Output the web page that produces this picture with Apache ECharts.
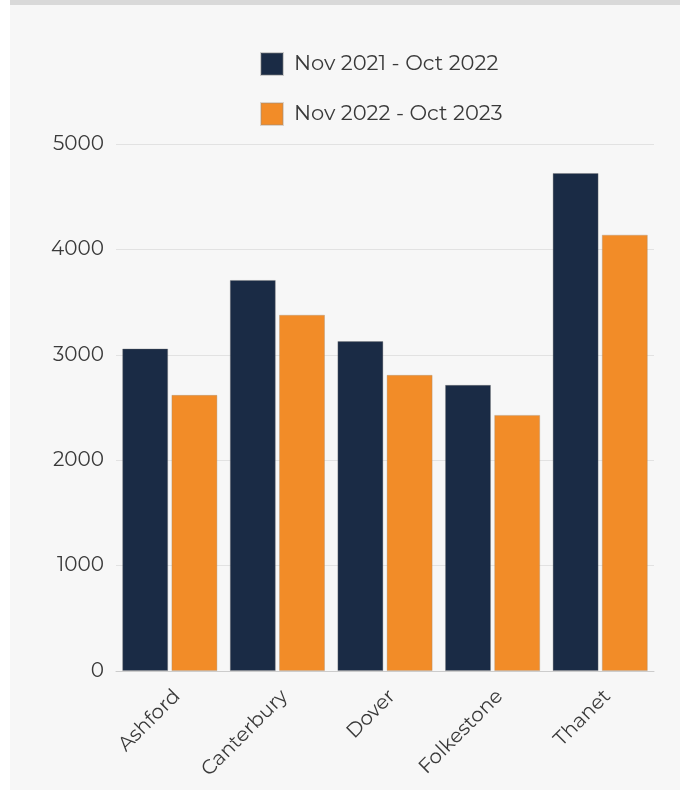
<!DOCTYPE html>
<html>
<head>
<meta charset="utf-8">
<script src="https://cdn.jsdelivr.net/npm/echarts@6/dist/echarts.min.js"></script>
<style>
  html, body { margin: 0; padding: 0; background: #ffffff; }
  #bg { position: absolute; left: 10px; top: 0; width: 670px; height: 790px; background: #f7f7f7; border-top: 5px solid #d9d9d9; box-sizing: border-box; }
  #chart { position: absolute; left: 0; top: 0; width: 680px; height: 792px; }
</style>
</head>
<body>
<div id="bg"></div>
<div id="chart"></div>
<script>
const categories = ['Ashford', 'Canterbury', 'Dover', 'Folkestone', 'Thanet'];
const seriesNames = ['Nov 2021 - Oct 2022', 'Nov 2022 - Oct 2023'];
const values2122 = [3060, 3710, 3130, 2715, 4725];
const values2223 = [2620, 3380, 2810, 2430, 4140];
const yTicks = [0, 1000, 2000, 3000, 4000, 5000];

const FONT = 'Montserrat, "Open Sans", "Noto Sans", sans-serif';
const chart = echarts.init(document.getElementById('chart'), null, { renderer: 'canvas' });
chart.setOption({
  backgroundColor: 'transparent',
  animation: false,
  textStyle: { fontFamily: FONT },
  legend: {
    orient: 'vertical',
    left: 260,
    top: 52,
    padding: 0,
    itemWidth: 22,
    itemHeight: 22,
    itemGap: 26,
    icon: 'rect',
    textStyle: { fontSize: 21, color: '#3a3a3a', fontFamily: FONT, padding: [0, 0, 0, 6] },
    data: seriesNames
  },
  grid: { left: 116, right: 26, top: 144, bottom: 121, containLabel: false },
  xAxis: {
    type: 'category',
    data: categories,
    axisLine: { show: true, lineStyle: { color: '#cccccc', width: 1 } },
    axisTick: { show: false },
    axisLabel: { rotate: 45, fontSize: 20, color: '#3a3a3a', fontFamily: FONT, margin: 15, interval: 0, verticalAlign: 'top' }
  },
  yAxis: {
    type: 'value',
    min: yTicks[0],
    max: yTicks[yTicks.length - 1],
    interval: 1000,
    axisLine: { show: false },
    axisTick: { show: false },
    splitLine: { lineStyle: { color: '#e2e2e2', width: 1 } },
    axisLabel: { fontSize: 20, color: '#3a3a3a', fontFamily: FONT, margin: 12, formatter: v => String(v) }
  },
  series: [
    {
      name: seriesNames[0], type: 'bar', data: values2122,
      barWidth: 46, barGap: '7%',
      itemStyle: { color: '#1a2b45', borderColor: 'rgba(120,120,120,0.35)', borderWidth: 1 }
    },
    {
      name: seriesNames[1], type: 'bar', data: values2223,
      barWidth: 46,
      itemStyle: { color: '#f28c28', borderColor: 'rgba(160,140,120,0.35)', borderWidth: 1 }
    }
  ]
});
</script>
</body>
</html>
